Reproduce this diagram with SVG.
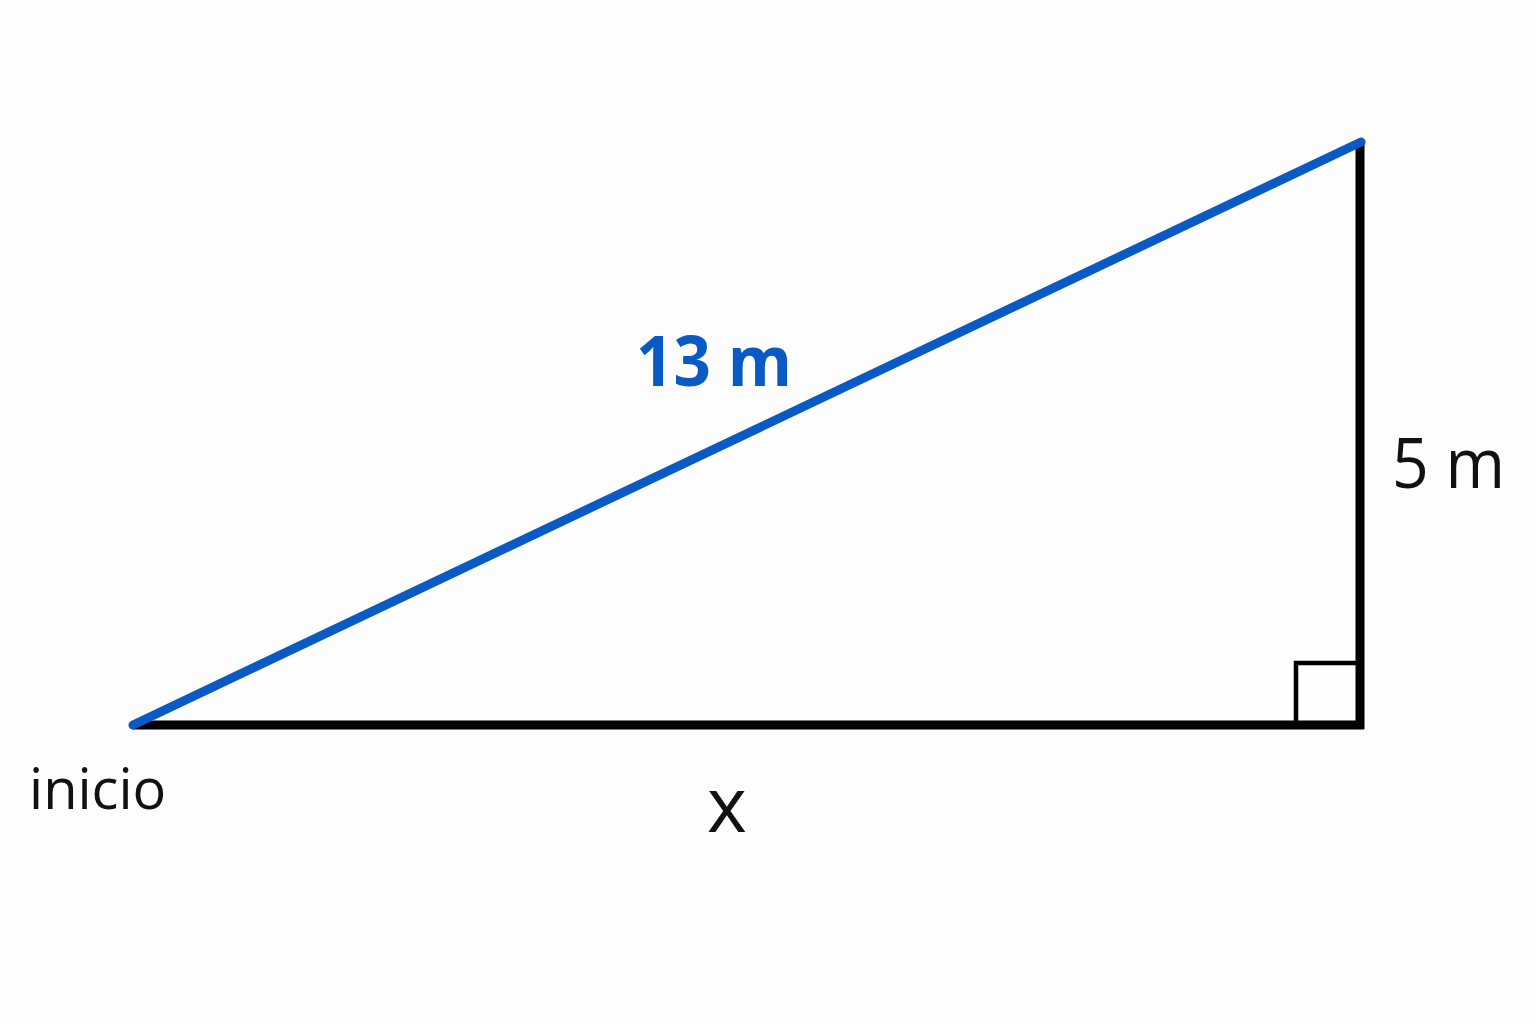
<svg xmlns="http://www.w3.org/2000/svg" width="1536" height="1024" viewBox="0 0 1536 1024">
<style>
.lbl{font-family:"Open Sans","Noto Sans","Liberation Sans",sans-serif;fill:#111}
.blue{font-family:"Open Sans","Noto Sans","Liberation Sans",sans-serif;font-weight:bold;fill:#0a5ac6}
</style>
<rect width="1536" height="1024" fill="#fdfdfd"/>
<g id="connectors" fill="none" stroke-linecap="butt">
<line id="base" x1="133" y1="725" x2="1364" y2="725" stroke="#000" stroke-width="9"/>
<line id="height" x1="1360" y1="140" x2="1360" y2="729" stroke="#000" stroke-width="9"/>
<polyline id="right-angle" points="1296,725 1296,663 1360,663" stroke="#000" stroke-width="4.5"/>
<line id="hyp" x1="133" y1="725" x2="1361" y2="142" stroke="#0a5ac6" stroke-width="9" stroke-linecap="round"/>
</g>
<g id="label-13m"><text class="blue" x="636" y="386" font-size="70" textLength="156" lengthAdjust="spacingAndGlyphs">13 m</text></g>
<g id="label-5m"><text class="lbl" x="1392" y="488" font-size="70" textLength="113" lengthAdjust="spacingAndGlyphs">5 m</text></g>
<g id="label-inicio"><text class="lbl" x="29" y="809" font-size="56">inicio</text></g>
<g id="label-x"><text class="lbl" x="707" y="832" font-size="76">x</text></g>
</svg>
